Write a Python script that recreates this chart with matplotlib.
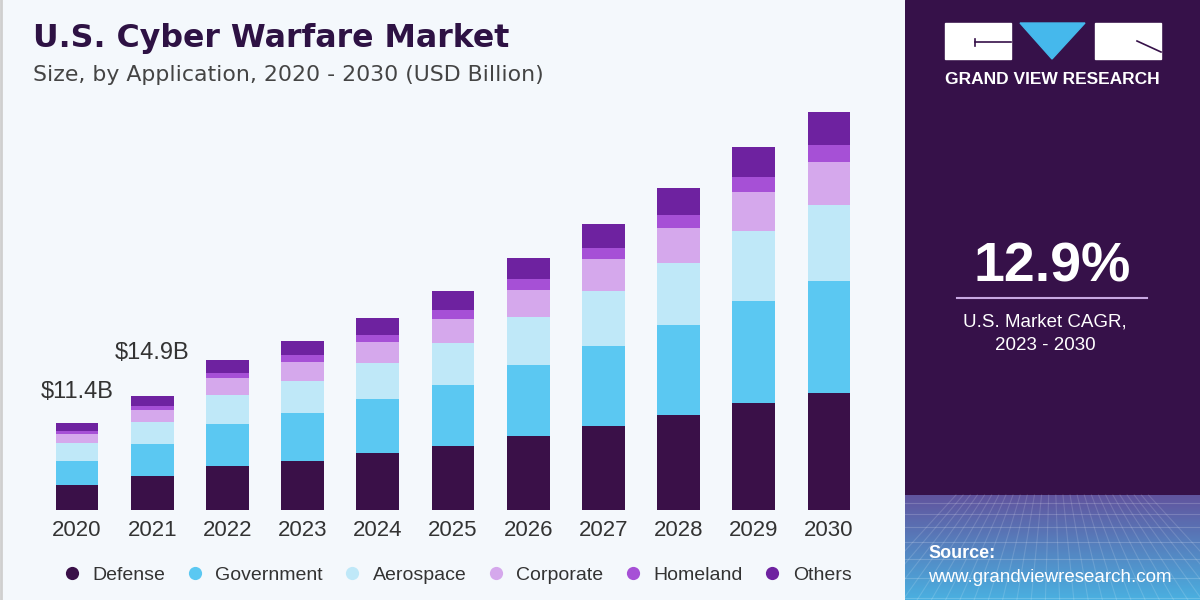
import numpy as np
import matplotlib.pyplot as plt
from matplotlib.patches import Rectangle, Polygon
from matplotlib.lines import Line2D

plt.rcParams["font.family"] = ["Liberation Sans", "DejaVu Sans"]

# data (USD billion)
years = ["2020", "2021", "2022", "2023", "2024", "2025", "2026", "2027", "2028", "2029", "2030"]
defense = [3.30, 4.40, 5.74, 6.43, 7.39, 8.34, 9.65, 10.99, 12.39, 13.99, 15.29]
government = [3.15, 4.17, 5.44, 6.26, 7.04, 7.95, 9.26, 10.43, 11.73, 13.26, 14.56]
aerospace = [2.30, 2.93, 3.82, 4.17, 4.69, 5.52, 6.22, 7.13, 8.04, 9.13, 9.91]
corporate = [1.15, 1.54, 2.18, 2.48, 2.82, 3.09, 3.56, 4.13, 4.56, 5.12, 5.65]
homeland = [0.43, 0.48, 0.73, 0.87, 0.87, 1.17, 1.40, 1.47, 1.73, 1.88, 2.18]
others = [1.07, 1.38, 1.66, 1.86, 2.26, 2.52, 2.74, 3.13, 3.48, 3.99, 4.34]

segments = ["Defense", "Government", "Aerospace", "Corporate", "Homeland", "Others"]
colors = ["#3a1048", "#5bc8f2", "#bfe8f8", "#d5a8ec", "#a650d6", "#6e22a0"]
callouts = {0: "$11.4B", 1: "$14.9B"}
callout_offset = {0: 22, 1: 31}

cagr = "12.9%"

BG = "#f4f8fc"
PANEL = "#361149"

fig = plt.figure(figsize=(12, 6), dpi=100)
fig.patch.set_facecolor(BG)

# ---- main stacked bars ----
ax = fig.add_axes([39.4 / 1200, 90 / 600, 827.2 / 1200, 410 / 600])
ax.set_facecolor("none")
x = np.arange(len(years))
bottom = np.zeros(len(years))
for name, vals, c in zip(segments, [defense, government, aerospace, corporate, homeland, others], colors):
    ax.bar(x, vals, bottom=bottom, width=0.57, color=c, label=name, linewidth=0)
    bottom += np.array(vals)

ax.set_xlim(-0.5, len(years) - 0.5)
ax.set_ylim(0, 410 / 7.67)
ax.set_xticks(x)
ax.set_xticklabels(years, fontsize=16, color="#333333")
ax.tick_params(axis="x", length=0, pad=7)
ax.set_yticks([])
for s in ax.spines.values():
    s.set_visible(False)

for i, txt in callouts.items():
    ax.annotate(txt, (x[i], bottom[i]), xytext=(0, callout_offset[i]), textcoords="offset points",
                ha="center", va="center", fontsize=17, color="#333333")

# ---- titles ----
fig.text(33 / 1200, 1 - 39 / 600, "U.S. Cyber Warfare Market", fontsize=22.8, fontweight="bold",
         family=["DejaVu Sans"], color="#2e1244", ha="left", va="center")
fig.text(33 / 1200, 1 - 75 / 600, "Size, by Application, 2020 - 2030 (USD Billion)", fontsize=15.8,
         family=["DejaVu Sans"], color="#444444", ha="left", va="center")

# ---- legend ----
handles = [Line2D([0], [0], marker="o", linestyle="none", markersize=9.5, markerfacecolor=c,
                  markeredgewidth=0) for c in colors]
fig.legend(handles, segments, loc="center", bbox_to_anchor=(452 / 1200, 1 - 575 / 600), ncol=6,
           frameon=False, fontsize=14, handletextpad=0.05, columnspacing=0.52, labelcolor="#333333")

# thin grey frame edge on the left
fig.add_artist(Line2D([0.001, 0.001], [0, 1], color="#cfcfcf", lw=2))

# ---- right panel ----
pax = fig.add_axes([905 / 1200, 0, 295 / 1200, 1])
pax.axis("off")
pax.add_patch(Rectangle((905, 0), 295, 600, color=PANEL, zorder=0))

# gradient band at the bottom
grad = np.linspace(0, 1, 100)[:, None]
c0 = np.array([0.38, 0.33, 0.62])
c1 = np.array([0.29, 0.69, 0.88])
img = c0[None, None, :] * (1 - grad[:, :, None]) + c1[None, None, :] * grad[:, :, None]
pax.imshow(img, extent=(905, 1200, 600, 495), aspect="auto", zorder=1)
for yy in [503, 514, 527, 542, 559, 578, 598]:
    pax.plot([905, 1200], [yy, yy], color="white", alpha=0.18, lw=0.8, zorder=2)
for xx in np.linspace(860, 1245, 28):
    pax.plot([1052 + (xx - 1052) * 0.5, xx], [495, 600], color="white", alpha=0.14, lw=0.8, zorder=2)
pax.set_xlim(905, 1200)
pax.set_ylim(600, 0)

# logo
pax.add_patch(Rectangle((945, 23), 66, 36, color="white", zorder=3))
pax.add_patch(Rectangle((1095, 23), 66, 36, color="white", zorder=3))
pax.add_patch(Polygon([(1020, 23), (1085, 23), (1052, 59)], closed=True, color="#45b8ec", zorder=3))
pax.plot([975, 1011], [42, 42], color=PANEL, lw=1.2, zorder=4)
pax.plot([975, 975], [39, 46], color=PANEL, lw=1.2, zorder=4)
pax.plot([1137, 1161], [41, 52], color=PANEL, lw=1.2, zorder=4)
pax.text(1052, 79, "GRAND VIEW RESEARCH", fontsize=12.5, fontweight="bold", color="white",
         ha="center", va="center", zorder=4)

# CAGR
pax.text(1052, 268, cagr, fontsize=40, fontweight="bold", color="white", ha="center", va="center", zorder=4)
pax.plot([957, 1147], [298, 298], color="#c8a8e2", lw=1.5, zorder=4)
pax.text(1045, 322, "U.S. Market CAGR,", fontsize=13.5, color="white", ha="center", va="center", zorder=4)
pax.text(1045, 346, "2023 - 2030", fontsize=13.5, color="white", ha="center", va="center", zorder=4)

# source
pax.text(928, 554, "Source:", fontsize=13, fontweight="bold", color="white", ha="left", va="center", zorder=4)
pax.text(928, 577, "www.grandviewresearch.com", fontsize=13.5, color="white", ha="left", va="center", zorder=4)

fig.savefig("out.png", dpi=100, facecolor=fig.get_facecolor())
